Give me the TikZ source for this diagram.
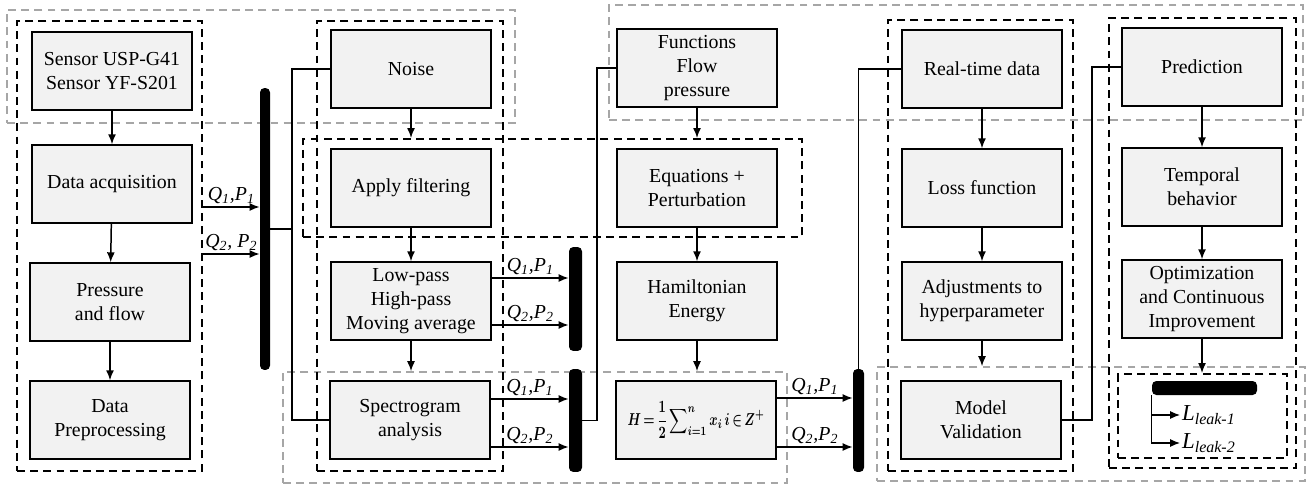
\documentclass[tikz,border=0pt]{standalone}
\usepackage{fontspec}
\setmainfont{Liberation Serif}
\usepackage{amsmath}
\usetikzlibrary{arrows.meta,fit}
\definecolor{boxgray}{RGB}{242,242,242}
\definecolor{framegray}{RGB}{166,166,166}
\newcommand{\hamform}{\resizebox*{2.74cm}{0.74cm}{\boldmath$\displaystyle H\,{=}\,\frac{1}{2}\sum\nolimits_{i=1}^{n}x_{i}\,i\,{\in}\,Z^{+}$}}
\tikzset{
  box/.style={draw, line width=1.1pt, fill=boxgray, minimum width=3.2cm, minimum height=1.55cm,
    align=center, inner sep=1pt, font=\fontsize{11.3}{13.6}\selectfont},
  blkframe/.style={draw, line width=1.1pt, dash pattern=on 4.5pt off 3pt, inner sep=0pt},
  grayframe/.style={draw=framegray, line width=0.9pt, dash pattern=on 4.5pt off 3pt, inner sep=0pt},
  bus/.style={fill=black, rounded corners=2.5pt, inner sep=0pt},
  conn/.style={line width=0.85pt},
  arr/.style={line width=0.85pt, -{Latex[length=2mm,width=1.6mm]}},
  qlab/.style={above, font=\fontsize{11.3}{13}\selectfont\itshape, inner sep=1.5pt}
}
\begin{document}
\begin{tikzpicture}[x=0.02cm, y=-0.02cm]
\useasboundingbox (0,0) rectangle (1308,484);

% frames
\node[grayframe, fit={(7,10) (515,123)}] (g1) {};
\node[grayframe, fit={(609,5) (1303,120)}] (g2) {};
\node[grayframe, fit={(283,372) (787,483)}] (g3) {};
\node[grayframe, fit={(877,367) (1305,481)}] (g4) {};
\node[blkframe, fit={(17,21) (202,471)}] (col1) {};
\node[blkframe, fit={(317,21) (503,471)}] (col2) {};
\node[blkframe, fit={(888,20) (1073,471)}] (col3) {};
\node[blkframe, fit={(1109,18) (1296,468)}] (col4) {};
\node[blkframe, fit={(303,139) (802,237)}] (filtrow) {};
\node[blkframe, fit={(1118,374) (1287,458)}] (leakbox) {};

% blocks
\node[box] (sensor) at (112,71) {Sensor USP-G41\\Sensor YF-S201};
\node[box] (dataacq) at (112,184) {Data acquisition};
\node[box] (pressure) at (110,302) {Pressure\\and flow};
\node[box] (preproc) at (110,420) {Data\\Preprocessing};

\node[box] (noise) at (411,69) {Noise};
\node[box] (filter) at (411,188) {Apply filtering};
\node[box] (lowpass) at (411,301) {Low-pass\\High-pass\\Moving average};
\node[box] (spectro) at (410,420) {Spectrogram\\analysis};

\node[box] (functions) at (697,68) {Functions\\Flow\\pressure};
\node[box] (equations) at (697,188) {Equations +\\Perturbation};
\node[box] (hamilton) at (697,301) {Hamiltonian\\Energy};
\node[box] (hform) at (696,420) {\hamform};

\node[box] (realtime) at (982,69) {Real-time data};
\node[box] (loss) at (982,188) {Loss function};
\node[box] (adjust) at (982,301) {Adjustments to\\hyperparameter};
\node[box] (model) at (981,420) {Model\\Validation};

\node[box] (predict) at (1202,67) {Prediction};
\node[box] (temporal) at (1202,187) {Temporal\\behavior};
\node[box] (optim) at (1202,299) {Optimization\\and Continuous\\Improvement};

% bars
\node[bus, minimum width=0.2cm, minimum height=5.64cm] (bus1) at (265,229) {};
\node[bus, minimum width=0.26cm, minimum height=2.08cm] (bus2) at (575.5,299) {};
\node[bus, minimum width=0.26cm, minimum height=2.06cm] (bus3) at (575.5,420.5) {};
\node[bus, minimum width=0.22cm, minimum height=2.06cm] (bus4) at (858.5,420.5) {};
\node[bus, minimum width=2.1cm, minimum height=0.28cm] (bus5) at (1204.5,388) {};

% vertical flow
\draw[arr] (sensor) -- (dataacq);
\draw[arr] (dataacq) -- (pressure);
\draw[arr] (pressure) -- (preproc);
\draw[arr] (noise.south) -- (noise.south |- filtrow.north);
\draw[arr] (filter) -- (lowpass);
\draw[arr] (lowpass.south) -- (lowpass.south |- g3.north);
\draw[arr] (functions.south) -- (functions.south |- filtrow.north);
\draw[arr] (equations) -- (hamilton);
\draw[arr] (hamilton.south) -- (hamilton.south |- g3.north);
\draw[arr] (realtime) -- (loss);
\draw[arr] (loss) -- (adjust);
\draw[arr] (adjust.south) -- (adjust.south |- g4.north);
\draw[arr] (predict) -- (temporal);
\draw[arr] (temporal) -- (optim);
\draw[arr] (optim.south) -- (optim.south |- leakbox.north);

% Q,P into bars
\coordinate (a1) at ([yshift=0.78cm]col1.east);
\coordinate (a2) at ([yshift=-0.16cm]col1.east);
\draw[arr] (a1) -- (a1 -| bus1.west) node[qlab, midway] {Q\textsubscript{1},P\textsubscript{1}};
\draw[arr] (a2) -- (a2 -| bus1.west) node[qlab, midway] {Q\textsubscript{2}, P\textsubscript{2}};
\coordinate (b1) at ([yshift=0.46cm]lowpass.east);
\coordinate (b2) at ([yshift=-0.48cm]lowpass.east);
\draw[arr] (b1) -- (b1 -| bus2.west) node[qlab, midway] {Q\textsubscript{1},P\textsubscript{1}};
\draw[arr] (b2) -- (b2 -| bus2.west) node[qlab, midway] {Q\textsubscript{2},P\textsubscript{2}};
\coordinate (c1) at ([yshift=0.42cm]spectro.east);
\coordinate (c2) at ([yshift=-0.54cm]spectro.east);
\draw[arr] (c1) -- (c1 -| bus3.west) node[qlab, midway] {Q\textsubscript{1},P\textsubscript{1}};
\draw[arr] (c2) -- (c2 -| bus3.west) node[qlab, midway] {Q\textsubscript{2},P\textsubscript{2}};
\coordinate (d1) at ([yshift=0.44cm]hform.east);
\coordinate (d2) at ([yshift=-0.54cm]hform.east);
\draw[arr] (d1) -- (d1 -| bus4.west) node[qlab, midway] {Q\textsubscript{1},P\textsubscript{1}};
\draw[arr] (d2) -- (d2 -| bus4.west) node[qlab, midway] {Q\textsubscript{2},P\textsubscript{2}};

% bars to next column
\coordinate (j1) at ([xshift=-0.76cm]noise.west);
\draw[conn] (bus1.east) -- (bus1.east -| j1);
\draw[conn] (noise.west) -- (j1) |- (spectro.west);
\draw[conn] (bus3.east) -| ([xshift=-0.38cm]functions.west) -- (functions.west);
\draw[conn] (bus4.north) |- (realtime.west);
\draw[conn] (model.east) -| ([xshift=-0.58cm]predict.west) -- (predict.west);

% leak outputs
\node[anchor=west, inner sep=1pt, font=\fontsize{13}{15}\selectfont\itshape] (leak1) at (1180,415) {L\textsubscript{leak-1}};
\node[anchor=west, inner sep=1pt, font=\fontsize{13}{15}\selectfont\itshape] (leak2) at (1180,443) {L\textsubscript{leak-2}};
\draw[line width=0.6pt, -{Latex[length=2mm,width=1.6mm]}] (bus5.south west) |- (leak1.west);
\draw[line width=0.6pt, -{Latex[length=2mm,width=1.6mm]}] (bus5.south west) |- (leak2.west);
\end{tikzpicture}
\end{document}
